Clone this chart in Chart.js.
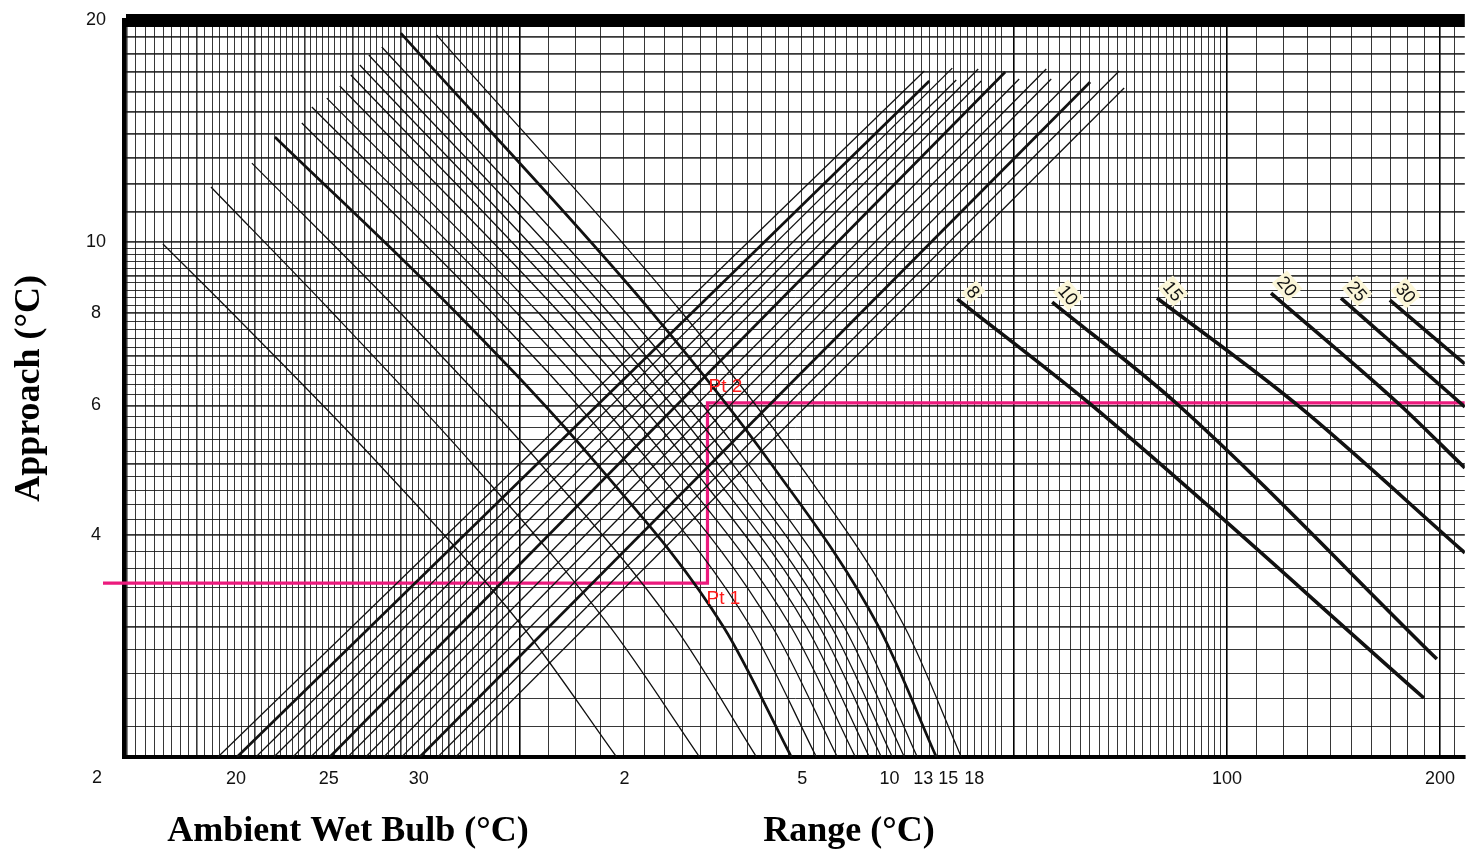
<!DOCTYPE html>
<html><head><meta charset="utf-8">
<script src="https://cdn.jsdelivr.net/npm/chart.js@4.4.1/dist/chart.umd.min.js"></script>
<style>html,body{margin:0;padding:0;background:#fff;}#wrap{width:1466px;height:854px;}</style>
</head><body><div id="wrap"><canvas id="c" width="1466" height="854"></canvas></div>
<script>
const yTickLabels = [20, 10, 8, 6, 4];
const yBottomLabel = '2';
const xTickValues = [3.971, 5.374, 7.200, 14.07, 25.09, 33.32, 37.21, 40.36, 43.92, 100, 200];
const xTickLabels = ['20', '25', '30', '2', '5', '10', '13', '15', '18', '100', '200'];

// Ambient wet bulb lines (ascending)
const wetBulbValues  = [19, 20, 21, 22, 23, 24, 25, 26, 27, 28, 29, 30, 31, 32];
const wetBulbThick   = [20, 25, 30];
const wetBulbBottomX = [3.745, 3.985, 4.238, 4.493, 4.779, 5.067, 5.390, 5.715, 6.060, 6.426, 6.813, 7.224, 7.660, 8.121];
const wetBulbBottomY = 2;
const wetBulbTopX    = [37.33, 37.94, 40.89, 41.42, 44.49, 44.93, 48.58, 50.84, 55.52, 56.43, 61.80, 64.05, 70.39, 71.55];
const wetBulbTopY    = [17.05, 16.53, 17.21, 16.58, 17.16, 16.53, 17.00, 16.63, 17.16, 16.63, 17.00, 16.48, 17.05, 16.17];

// Range lines (descending curves)
const rangeValues = [2, 3, 4, 5, 6, 7, 8, 9, 10, 11, 12, 13, 15, 18];
const rangeThick  = [5, 15];
const rangeStartY = [9.934, 11.87, 12.79, 13.88, 14.50, 15.24, 15.67, 16.27, 16.84, 17.38, 17.93, 18.38, 19.20, 19.08];
const rangeLevelY = [8, 5, 3, 2];
const rangeX = [
  [3.131, 3.926, 6.315, 10.11, 13.71],
  [3.661, 5.446, 8.568, 13.43, 17.96],
  [4.183, 6.789, 10.70, 16.58, 21.62],
  [4.508, 8.148, 12.84, 19.43, 24.22],
  [4.921, 9.156, 14.22, 21.23, 26.27],
  [5.084, 9.919, 15.33, 22.78, 28.13],
  [5.338, 10.65, 16.37, 24.21, 29.83],
  [5.569, 11.40, 17.36, 25.45, 31.22],
  [5.772, 12.08, 18.25, 26.57, 32.46],
  [5.943, 12.71, 19.08, 27.61, 33.64],
  [6.120, 13.38, 19.98, 28.78, 34.98],
  [6.384, 14.15, 21.02, 30.12, 36.49],
  [6.791, 15.42, 22.67, 32.20, 38.82],
  [7.634, 16.99, 24.82, 35.04, 42.11]
];

// Right-hand family (labelled 8 ... 30)
const lgLabels = ['8', '10', '15', '20', '25', '30'];
const lgX = [
  [41.56, 64.05, 189.8],
  [56.60, 85.02, 198.0],
  [79.62, 125.2, 216.9],
  [115.4, 175.0, 216.9],
  [144.9, 216.9],
  [169.9, 216.9]
];
const lgY = [
  [8.364, 6.026, 2.405],
  [8.286, 6.026, 2.716],
  [8.390, 6.026, 3.784],
  [8.522, 6.026, 4.934],
  [8.390, 5.970],
  [8.338, 6.828]
];

// Worked example path (pink)
const pathX = [2.576, 18.43, 18.43, 216.85];
const pathY = [3.444, 3.444, 6.045, 6.045];
const pathPointLabels = ['Pt 1', 'Pt 2'];

// ---------------- axes / grid ----------------
const xMin = 2.7585, xMax = 216.85, yMin = 2, yMax = 20;

function buildXGrid() {
  const vals = [];
  let v = 2.78;
  const a = Math.log10(2.78), b = Math.log10(4.6);
  while (v < 9.75) {
    vals.push(v);
    const t = Math.min(1, (Math.log10(v) - a) / (b - a));
    v *= Math.pow(10, (9.5 - 3.5 * t) / 708);
  }
  for (let k = 10; k < 48; k++) vals.push(k);
  for (let k = 48; k < 100; k += 2) vals.push(k);
  for (let k = 100; k <= 210; k += 10) vals.push(k);
  return vals;
}
const xGrid = buildXGrid();
const xHeavy = new Set([10, 50, 100, 200]);

function buildYGrid() {
  const vals = [];
  for (let i = 0; i <= 40; i++) vals.push(Math.round((2 + i * 0.2) * 10) / 10);
  for (let k = 11; k <= 20; k++) vals.push(k);
  return vals;
}
const yGrid = buildYGrid();

// ---------------- datasets ----------------
const INK = '#111';
const datasets = [];

wetBulbValues.forEach((wb, i) => {
  datasets.push({
    label: 'WB ' + wb,
    data: [{x: wetBulbBottomX[i], y: wetBulbBottomY}, {x: wetBulbTopX[i], y: wetBulbTopY[i]}],
    borderColor: INK, borderWidth: wetBulbThick.includes(wb) ? 2.7 : 1.3,
    pointRadius: 0, tension: 0, fill: false
  });
});

rangeValues.forEach((r, i) => {
  const ys = [rangeStartY[i]].concat(rangeLevelY);
  datasets.push({
    label: 'Range ' + r,
    data: rangeX[i].map((x, j) => ({x: x, y: ys[j]})),
    borderColor: INK, borderWidth: rangeThick.includes(r) ? 2.7 : 1.3,
    pointRadius: 0, cubicInterpolationMode: 'monotone', fill: false
  });
});

lgLabels.forEach((lab, i) => {
  datasets.push({
    label: 'L/G ' + lab,
    data: lgX[i].map((x, j) => ({x: x, y: lgY[i][j]})),
    borderColor: INK, borderWidth: 3.6,
    pointRadius: 0, cubicInterpolationMode: 'monotone', fill: false
  });
});

datasets.push({
  label: 'Example',
  data: pathX.map((x, j) => ({x: x, y: pathY[j]})),
  borderColor: '#ec1a7d', borderWidth: 3.2,
  pointRadius: 0, tension: 0, fill: false,
  clip: {left: 30, top: 0, right: 0, bottom: 0}
});

// ---------------- text plugin ----------------
const TICK_FONT = '"Liberation Sans Narrow", "Arial Narrow", "Liberation Sans", Arial, sans-serif';
const TITLE_FONT = '"Liberation Serif", "Times New Roman", serif';

const textPlugin = {
  id: 'nomoTexts',
  afterDatasetsDraw(chart) {
    const ctx = chart.ctx, xs = chart.scales.x, ys = chart.scales.y;
    ctx.save();
    // labels of the right-hand family
    ctx.font = '18px "Liberation Sans", Arial, sans-serif';
    ctx.textAlign = 'center'; ctx.textBaseline = 'middle';
    lgLabels.forEach((lab, i) => {
      const px = xs.getPixelForValue(lgX[i][0]);
      const py = ys.getPixelForValue(lgY[i][0]);
      ctx.save();
      ctx.translate(px + 16, py - 7);
      ctx.rotate(50 * Math.PI / 180);
      const w = ctx.measureText(lab).width;
      ctx.fillStyle = '#fbf6d8';
      ctx.fillRect(-w / 2 - 2, -10, w + 4, 20);
      ctx.fillStyle = '#111';
      ctx.fillText(lab, 0, 1);
      ctx.restore();
    });
    // Pt labels
    ctx.font = '19px "Liberation Sans", Arial, sans-serif';
    ctx.fillStyle = '#ff1a1a';
    const p1x = xs.getPixelForValue(pathX[1]), p1y = ys.getPixelForValue(pathY[1]);
    const p2x = xs.getPixelForValue(pathX[2]), p2y = ys.getPixelForValue(pathY[2]);
    ctx.fillText(pathPointLabels[0], p1x + 16, p1y + 16);
    ctx.fillText(pathPointLabels[1], p2x + 18, p2y - 16);
    ctx.restore();
  },
  afterDraw(chart) {
    const ctx = chart.ctx, ca = chart.chartArea;
    ctx.save();
    ctx.fillStyle = '#111';
    ctx.textAlign = 'center'; ctx.textBaseline = 'middle';
    ctx.font = '18px ' + TICK_FONT;
    ctx.fillText(yBottomLabel, ca.left - 27, ca.bottom + 21);
    ctx.fillStyle = '#000';
    ctx.font = 'bold 36px ' + TITLE_FONT;
    ctx.fillText('Ambient Wet Bulb (°C)', ca.left + 224, ca.bottom + 75);
    ctx.fillText('Range (°C)', ca.left + 725, ca.bottom + 75);
    ctx.restore();
  }
};

// ---------------- chart ----------------
new Chart(document.getElementById('c'), {
  type: 'line',
  data: {datasets: datasets},
  plugins: [textPlugin],
  options: {
    responsive: false, animation: false, devicePixelRatio: 1,
    layout: {padding: {top: 20, right: 0, bottom: 0, left: 0}},
    plugins: {legend: {display: false}, tooltip: {enabled: false}},
    elements: {point: {radius: 0}},
    scales: {
      x: {
        type: 'logarithmic', position: 'bottom', min: xMin, max: xMax, weight: 0,
        afterBuildTicks: a => { a.ticks = xGrid.map(v => ({value: v})); },
        afterFit: a => { a.height = 0; },
        ticks: {display: false},
        grid: {
          drawTicks: false,
          color: c => xHeavy.has(c.tick && c.tick.value) ? '#000' : 'rgba(20,20,20,0.85)',
          lineWidth: c => {
            const v = c.tick && c.tick.value;
            if (xHeavy.has(v)) return 1.6;
            return (c.index % 8 === 0 && v < 10) ? 1.6 : 1;
          }
        },
        border: {display: true, width: 4, color: '#000'}
      },
      xl: {
        type: 'logarithmic', position: 'bottom', min: xMin, max: xMax, weight: 1,
        afterBuildTicks: a => { a.ticks = xTickValues.map(v => ({value: v})); },
        afterFit: a => { a.height = 97; },
        ticks: {
          autoSkip: false, maxRotation: 0, minRotation: 0, padding: 11, color: '#111',
          font: {family: TICK_FONT, size: 18},
          callback: (v, i) => xTickLabels[i]
        },
        grid: {display: false, drawTicks: false},
        border: {display: false}
      },
      y: {
        type: 'logarithmic', position: 'left', min: yMin, max: yMax,
        afterBuildTicks: a => { a.ticks = yGrid.map(v => ({value: v})); },
        afterFit: a => { a.width = 124; },
        ticks: {
          autoSkip: false, crossAlign: 'center', padding: 18, color: '#111',
          font: {family: TICK_FONT, size: 18, lineHeight: 0.1},
          callback: v => yTickLabels.includes(Math.round(v * 10) / 10) ? String(Math.round(v)) : ''
        },
        grid: {
          drawTicks: false,
          color: c => {
            const v = c.tick && c.tick.value;
            return (v >= 19.99 || v <= 2.01) ? '#000' : 'rgba(20,20,20,0.85)';
          },
          lineWidth: c => {
            const v = c.tick && c.tick.value;
            if (v >= 19.99) return 13;
            if (v <= 2.01) return 4;
            if (Math.abs(v - Math.round(v)) < 0.01) return 1.7;
            return 1;
          }
        },
        border: {display: true, width: 4, color: '#000'},
        title: {
          display: true, text: 'Approach (°C)', color: '#000',
          font: {family: TITLE_FONT, size: 36, weight: 'bold'},
          padding: {top: 8, bottom: 0}
        }
      }
    }
  }
});
</script>
</body></html>
